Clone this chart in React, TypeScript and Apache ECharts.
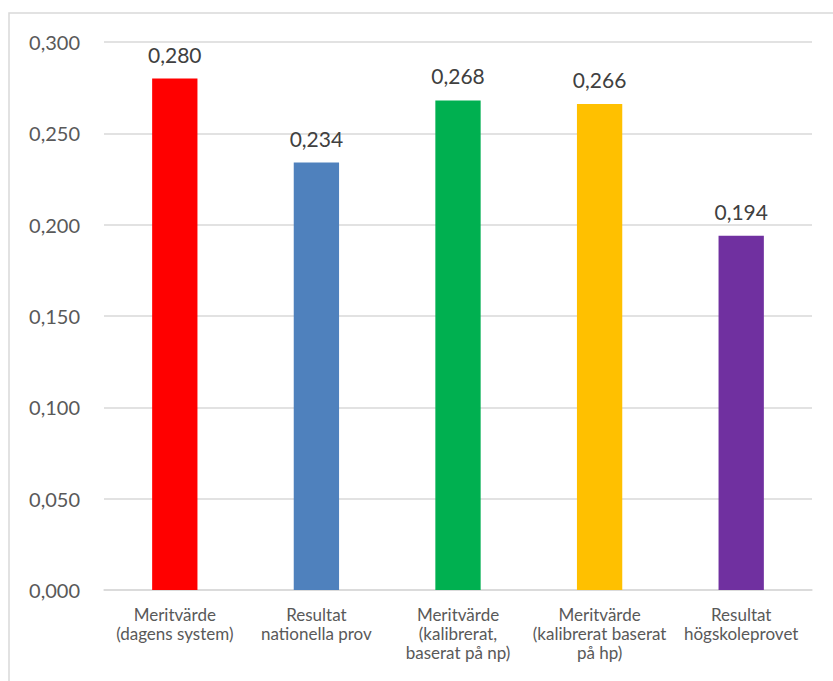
import React, { useEffect, useRef } from "react";
import * as echarts from "echarts";

const categories = [
  "Meritvärde\n(dagens system)",
  "Resultat\nnationella prov",
  "Meritvärde\n(kalibrerat,\nbaserat på np)",
  "Meritvärde\n(kalibrerat baserat\npå hp)",
  "Resultat\nhögskoleprovet",
];
const values = [0.28, 0.234, 0.268, 0.266, 0.194];
const colors = ["#FF0000", "#4F81BD", "#00B050", "#FFC000", "#7030A0"];

const fmt = (v: number) => v.toFixed(3).replace(".", ",");

export default function App() {
  const ref = useRef<HTMLDivElement>(null);
  useEffect(() => {
    if (!ref.current) return;
    const chart = echarts.init(ref.current, undefined, { renderer: "svg" });
    chart.setOption({
      animation: false,
      backgroundColor: "#ffffff",
      textStyle: { fontFamily: "Lato, Open Sans, sans-serif" },
      graphic: [
        {
          type: "rect",
          shape: { x: 9, y: 13, width: 830, height: 680 },
          style: { fill: "none", stroke: "#d9d9d9", lineWidth: 1.5 },
          silent: true,
        },
      ],
      grid: { left: 104, right: 21, top: 42, bottom: 91 },
      xAxis: {
        type: "category",
        data: categories,
        axisTick: { show: false },
        axisLine: { lineStyle: { color: "#d9d9d9", width: 1.5 } },
        axisLabel: {
          color: "#595959",
          fontSize: 17,
          lineHeight: 19,
          margin: 15,
          interval: 0,
        },
      },
      yAxis: {
        type: "value",
        min: 0,
        max: 0.3,
        interval: 0.05,
        axisLine: { show: false },
        axisTick: { show: false },
        splitLine: { lineStyle: { color: "#d9d9d9", width: 1.5 } },
        axisLabel: {
          color: "#595959",
          fontSize: 20,
          margin: 24,
          formatter: (v: number) => fmt(v),
        },
      },
      series: [
        {
          type: "bar",
          barWidth: "32%",
          data: values.map((v, i) => ({ value: v, itemStyle: { color: colors[i] } })),
          label: {
            show: true,
            position: "top",
            distance: 14,
            color: "#404040",
            fontSize: 21,
            formatter: (p: any) => fmt(p.value),
          },
        },
      ],
    });
    return () => chart.dispose();
  }, []);
  return (
    <div
      ref={ref}
      style={{ position: "fixed", left: 0, top: 0, width: 833, height: 681 }}
    />
  );
}
